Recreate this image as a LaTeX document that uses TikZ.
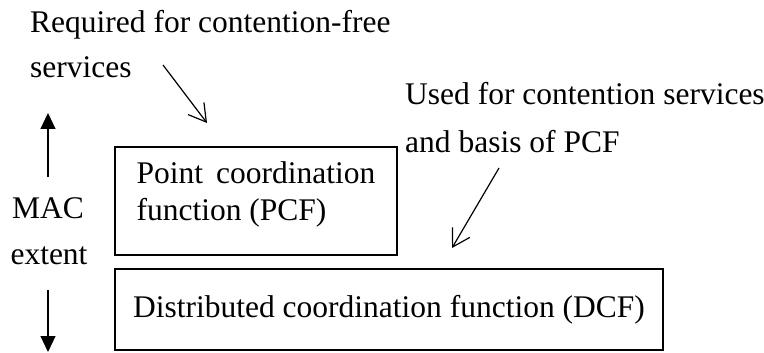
\documentclass[tikz,border=0pt]{standalone}
\usepackage{fontspec}
\setmainfont{Liberation Serif}
\usepackage{tikz}
\usetikzlibrary{arrows.meta}
\usetikzlibrary{positioning}

\begin{document}
\begin{tikzpicture}[x=1pt,y=-1pt,
  lbl/.style={inner sep=0pt,anchor=base west,font=\fontsize{31.5}{37}\selectfont},
  box/.style={draw,line width=1.3pt,inner sep=0pt,align=left,font=\fontsize{31.5}{37}\selectfont}]
\useasboundingbox (0,0) rectangle (764,353);
\node[lbl] (req) at (30,33) {Required for contention-free};
\node[lbl] (serv) at (30,78) {services};
\node[lbl] (used) at (405,105) {Used for contention services};
\node[lbl] (basis) at (405,152) {and basis of PCF};
\node[lbl,anchor=base] (mac) at (48,218) {MAC};
\node[lbl,anchor=base] (ext) at (49,264) {extent};
\node[box,minimum width=282pt,minimum height=108pt,text depth=19pt] (pcf) at (256,201) {Point\, coordination\\function (PCF)};
\node[box,minimum width=548pt,minimum height=81pt] (dcf) at (389,309.5) {Distributed coordination function (DCF)};
\coordinate (a1s) at (163,65);
\coordinate (a1e) at (207,123);
\coordinate (a2s) at (499,168);
\coordinate (a2e) at (452,248);
\coordinate (ups) at (48,177);
\coordinate (upe) at (48,113);
\coordinate (dns) at (48,290);
\coordinate (dne) at (48,352);
\draw[line width=1.2pt,-{Straight Barb[length=17pt,width=20pt]}] (a1s)--(a1e);
\draw[line width=1.2pt,-{Straight Barb[length=17pt,width=20pt]}] (a2s)--(a2e);
\draw[line width=1.2pt,-{Triangle[length=16pt,width=15pt]}] (ups)--(upe);
\draw[line width=1.2pt,-{Triangle[length=16pt,width=15pt]}] (dns)--(dne);
\end{tikzpicture}
\end{document}
